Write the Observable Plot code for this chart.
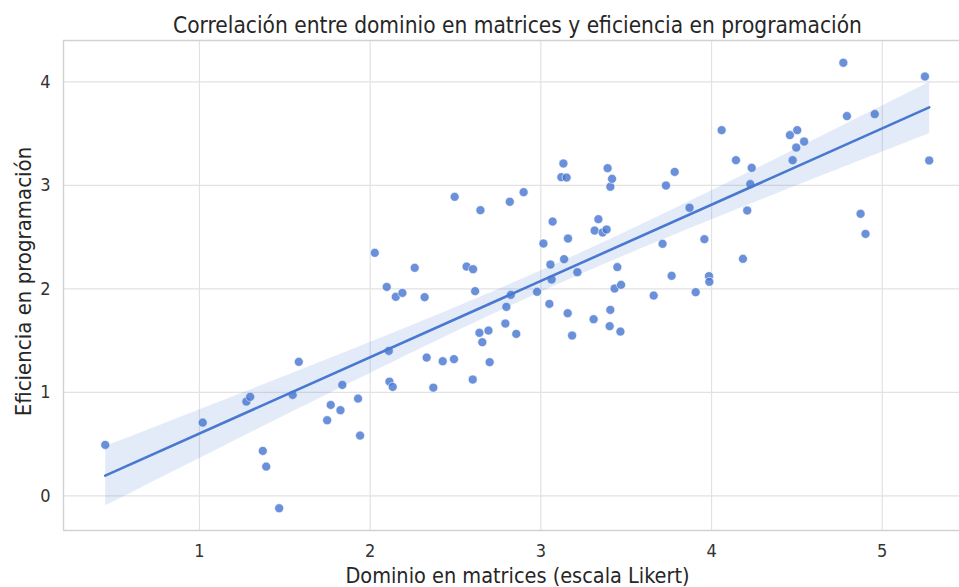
<!DOCTYPE html>
<html><head><meta charset="utf-8">
<script src="https://cdn.jsdelivr.net/npm/d3@7"></script>
<script src="https://cdn.jsdelivr.net/npm/@observablehq/plot@0.6"></script>
<style>body{margin:0;background:#fff;overflow:hidden} svg{display:block} svg text{font-stretch:condensed}</style>
</head><body><div id="chart"></div>
<script>
const dominio = [0.448,1.019,1.275,1.297,1.371,1.391,1.467,1.546,1.582,1.748,1.769,1.826,1.837,1.929,1.941,2.027,2.097,2.109,2.113,2.132,2.150,2.189,2.261,2.319,2.331,2.370,2.425,2.491,2.495,2.565,2.603,2.615,2.601,2.646,2.640,2.657,2.693,2.700,2.792,2.798,2.818,2.824,2.856,2.899,2.978,3.015,3.050,3.056,3.063,3.069,3.120,3.132,3.151,3.136,3.159,3.157,3.183,3.214,3.309,3.315,3.337,3.362,3.385,3.391,3.407,3.417,3.407,3.403,3.432,3.448,3.470,3.466,3.661,3.713,3.733,3.766,3.784,3.871,3.907,3.958,3.985,3.987,4.059,4.143,4.184,4.209,4.227,4.235,4.459,4.475,4.496,4.502,4.542,4.772,4.793,4.873,4.902,4.956,5.250,5.275];
const eficiencia = [0.493,0.708,0.911,0.957,0.435,0.283,-0.119,0.976,1.295,0.731,0.879,0.828,1.072,0.940,0.583,2.348,2.019,1.401,1.104,1.053,1.923,1.961,2.203,1.920,1.336,1.046,1.301,1.321,2.889,2.215,2.190,1.978,1.124,2.760,1.575,1.485,1.597,1.292,1.665,1.826,2.841,1.942,1.565,2.934,1.971,2.438,1.855,2.235,2.090,2.650,3.079,3.211,3.075,2.287,2.486,1.765,1.549,2.161,1.707,2.563,2.673,2.544,2.573,3.166,2.986,3.063,1.797,1.640,2.003,2.210,2.039,1.587,1.935,2.435,2.998,2.126,3.130,2.783,1.968,2.480,2.123,2.068,3.533,3.243,2.290,2.757,3.012,3.169,3.485,3.243,3.365,3.533,3.423,4.184,3.669,2.725,2.531,3.688,4.051,3.240];
const xTicks = [1, 2, 3, 4, 5];
const yTicks = [0, 1, 2, 3, 4];
const titleText = "Correlación entre dominio en matrices y eficiencia en programación";
const xLabel = "Dominio en matrices (escala Likert)";
const yLabel = "Eficiencia en programación";
const xDomain = [0.2035, 5.4525];
const yDomain = [-0.334, 4.399];

const data = dominio.map((d, i) => ({x: d, y: eficiencia[i]}));
const blue = "#4878d0";
const chart = Plot.plot({
  width: 959, height: 587,
  marginLeft: 63, marginRight: 0, marginTop: 40, marginBottom: 57,
  style: {fontFamily: "'DejaVu Sans Condensed', 'DejaVu Sans'", fontSize: "18px", color: "#333", background: "#fff"},
  x: {domain: xDomain},
  y: {domain: yDomain},
  marks: [
    Plot.gridX(xTicks, {stroke: "#e2e2e2", strokeOpacity: 1, strokeWidth: 1.2}),
    Plot.gridY(yTicks, {stroke: "#e2e2e2", strokeOpacity: 1, strokeWidth: 1.2}),
    Plot.ruleX([xDomain[0]], {stroke: "#d2d2d2", strokeWidth: 1.4}),
    Plot.ruleY([yDomain[0]], {stroke: "#d2d2d2", strokeWidth: 1.4}),
    Plot.ruleY([yDomain[1]], {stroke: "#d2d2d2", strokeWidth: 1.4}),
    Plot.axisX(xTicks, {tickSize: 0, tickPadding: 14, label: null, fill: "#333", fontSize: 18, tickFormat: d => String(d)}),
    Plot.axisY(yTicks, {tickSize: 0, tickPadding: 13, label: null, fill: "#333", fontSize: 18, tickFormat: d => String(d)}),
    Plot.dot(data, {x: "x", y: "y", r: 4.5, fill: blue, fillOpacity: 0.82, stroke: "white", strokeWidth: 0.6}),
    Plot.linearRegressionY(data, {x: "x", y: "y", stroke: blue, strokeWidth: 2.6, fill: blue, fillOpacity: 0.15}),
    Plot.text([titleText], {frameAnchor: "top", lineAnchor: "middle", dx: 6, dy: -15, fontSize: 22.5, fill: "#262626"}),
    Plot.text([xLabel], {frameAnchor: "bottom", lineAnchor: "middle", dx: 6, dy: 45.3, fontSize: 21.5, fill: "#262626"}),
    Plot.text([yLabel], {frameAnchor: "left", lineAnchor: "middle", textAnchor: "middle", dx: -40, dy: -4, rotate: -90, fontSize: 22, fill: "#262626"})
  ]
});
document.getElementById("chart").append(chart);
</script>
</body></html>
